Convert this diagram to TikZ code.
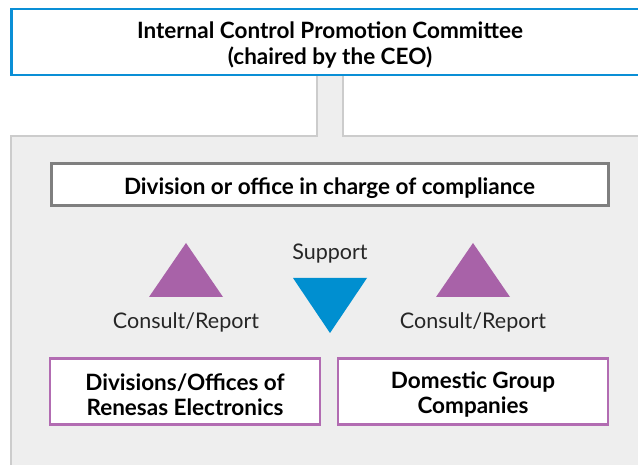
\documentclass[tikz,border=0pt]{standalone}
\usepackage{fontspec}
\setmainfont{Lato}
\definecolor{bluebd}{HTML}{0A8FD6}
\definecolor{bluetri}{HTML}{008FD0}
\definecolor{purp}{HTML}{A862A8}
\definecolor{purpbd}{HTML}{B26CB2}
\definecolor{grayfill}{HTML}{EEEEEE}
\definecolor{graybd}{HTML}{CCCCCC}
\definecolor{darkbd}{HTML}{7F7F7F}
\tikzset{
  boxtext/.style={font=\fontsize{22.5}{25.5}\selectfont\bfseries, align=center, text=black},
  lbl/.style={font=\fontsize{21.5}{25}\selectfont, text=black!85},
}
\begin{document}
\begin{tikzpicture}[x=1pt,y=-1pt]
\useasboundingbox (0,0) rectangle (638,465);
% gray area and stem
\fill[grayfill] (11,136) rectangle (650,480);
\draw[graybd, line width=1.3pt] (11,480) -- (11,136) -- (317,136) -- (317,74);
\draw[graybd, line width=1.3pt] (343,74) -- (343,136) -- (650,136);
\fill[grayfill] (317.6,74) rectangle (342.4,137);
% top box
\node[draw=bluebd, line width=2.5pt, fill=white, minimum width=640pt, minimum height=66pt, anchor=north west, inner sep=0pt] (top) at (10,8) {};
\node[boxtext, anchor=center] (toptext) at (330,45) {Internal Control Promotion Committee\\(chaired by the CEO)};
% compliance box
\node[draw=darkbd, line width=3pt, fill=white, minimum width=557pt, minimum height=42pt, inner sep=0pt] (comp) at (329.5,185) {};
\node[boxtext] (comptext) at (329.5,188) {Division or office in charge of compliance};
% triangles
\fill[purp] (186,243) -- (223,297) -- (149,297) -- cycle;
\fill[purp] (473,243) -- (510,297) -- (436,297) -- cycle;
\fill[bluetri] (293,278) -- (367,278) -- (330,333) -- cycle;
% labels
\node[lbl] (sup) at (330,254) {Support};
\node[lbl] (cr1) at (186,322) {Consult/Report};
\node[lbl] (cr2) at (473,322) {Consult/Report};
% bottom boxes
\node[draw=purpbd, line width=2.5pt, fill=white, minimum width=270pt, minimum height=66pt, inner sep=0pt] (div) at (185,391.5) {};
\node[draw=purpbd, line width=2.5pt, fill=white, minimum width=270pt, minimum height=66pt, inner sep=0pt] (dom) at (473,391.5) {};
\node[boxtext] (divtext) at (185,394.5) {Divisions/Offices of\\Renesas Electronics};
\node[boxtext] (domtext) at (473,394.5) {Domestic Group\\Companies};
\end{tikzpicture}
\end{document}
